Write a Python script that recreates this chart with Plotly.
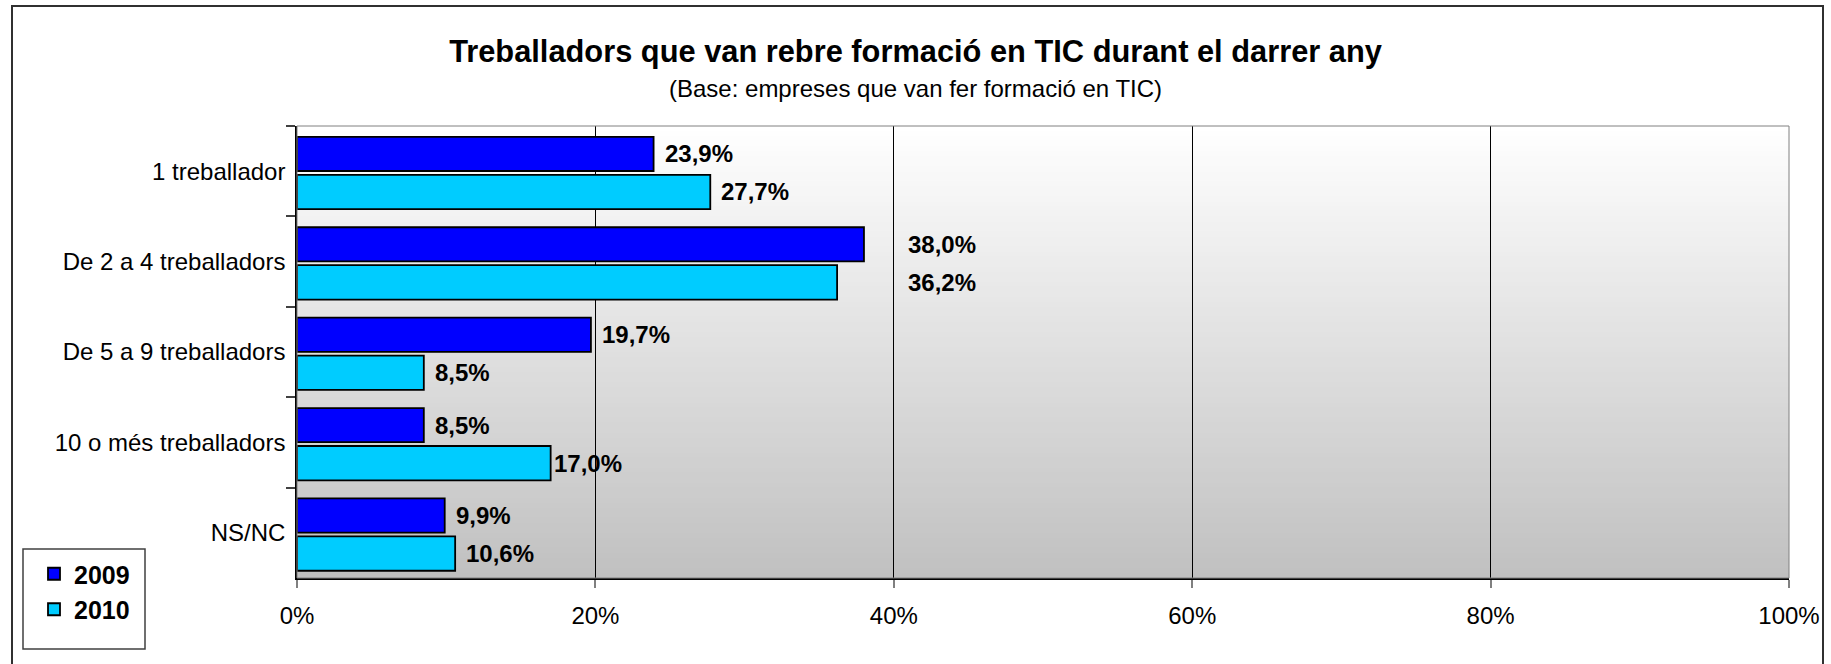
import plotly.graph_objects as go

# ---- data ----
categories = ["1 treballador", "De 2 a 4 treballadors", "De 5 a 9 treballadors",
              "10 o més treballadors", "NS/NC"]
values_2009 = [23.9, 38.0, 19.7, 8.5, 9.9]
values_2010 = [27.7, 36.2, 8.5, 17.0, 10.6]
series_names = ["2009", "2010"]
x_ticks = [0, 20, 40, 60, 80, 100]
x_tick_labels = ["0%", "20%", "40%", "60%", "80%", "100%"]

title = "Treballadors que van rebre formació en TIC durant el darrer any"
subtitle = "(Base: empreses que van fer formació en TIC)"

# ---- layout constants (pixels) ----
W, H = 1831, 664
ML, MR, MT, MB = 297, 42, 126, 86
PW, PH = W - ML - MR, H - MT - MB
FONT = "Liberation Sans, Arial, Helvetica, sans-serif"
COLORS = ["#0000FF", "#00CCFF"]
# bar placement inside each category band (band = 1 unit)
BAR_WIDTH = [0.378, 0.38]
BAR_OFFSET = [-0.38, 0.04]

# extra horizontal offset (px) for a few value labels
label_shift = {(0, 1): 42, (1, 1): 69, (1, 3): 1}


def fmt(v):
    return f"{v:.1f}".replace(".", ",") + "%"


fig = go.Figure()
for i, (name, vals) in enumerate(zip(series_names, [values_2009, values_2010])):
    fig.add_trace(go.Bar(
        y=categories, x=vals, name=name, orientation="h",
        legendgroup=name,
        width=BAR_WIDTH[i], offset=BAR_OFFSET[i],
        marker=dict(color=COLORS[i], line=dict(color="#000000", width=1.8)),
        hoverinfo="x+y",
    ))

# value labels to the right of each bar
band = PH / len(categories)
for i, vals in enumerate([values_2009, values_2010]):
    centre = BAR_OFFSET[i] + BAR_WIDTH[i] / 2   # in band units, positive = down
    for j, (cat, v) in enumerate(zip(categories, vals)):
        fig.add_annotation(
            x=v, y=cat, xref="x", yref="y", text=fmt(v), showarrow=False,
            xanchor="left", yanchor="middle",
            xshift=label_shift.get((i, j), 9),
            yshift=-centre * band,
            font=dict(family=FONT, size=24, color="#000000", weight="bold"),
        )

# subtitle
fig.add_annotation(
    x=(W / 2 - ML) / PW, y=1, xref="paper", yref="paper",
    text=subtitle, showarrow=False, xanchor="center", yanchor="middle",
    yshift=MT - 88, font=dict(family=FONT, size=24, color="#000000"),
)

shapes = []
# vertical gradient in the plot area (white at top, grey at bottom)
N = 90
top, bot = (255, 255, 255), (192, 192, 192)
for k in range(N):
    t = (k + 0.5) / N
    c = tuple(round(top[m] + (bot[m] - top[m]) * t) for m in range(3))
    shapes.append(dict(
        type="rect", xref="x domain", yref="y domain",
        x0=0, x1=1, y0=1 - (k + 1) / N - 0.002, y1=1 - k / N,
        fillcolor=f"rgb{c}", line=dict(width=0), layer="below",
    ))
# plot area frame (top/right)
shapes.append(dict(type="rect", xref="x domain", yref="y domain",
                   x0=0, x1=1, y0=0, y1=1,
                   line=dict(color="#808080", width=1), layer="above"))
# outer chart frame
shapes.append(dict(type="rect", xref="paper", yref="paper",
                   x0=(12 - ML) / PW, x1=(1823 - ML) / PW,
                   y0=-(H + 20 - (H - MB)) / PH, y1=1 + (MT - 6) / PH,
                   line=dict(color="#303030", width=2), layer="above"))
# legend frame
shapes.append(dict(type="rect", xref="paper", yref="paper",
                   x0=(23 - ML) / PW, x1=(145 - ML) / PW,
                   y0=-(649 - (H - MB)) / PH, y1=-(549 - (H - MB)) / PH,
                   line=dict(color="#404040", width=1.5),
                   fillcolor="#FFFFFF", layer="above"))

fig.update_layout(
    width=W, height=H,
    margin=dict(l=ML, r=MR, t=MT, b=MB, autoexpand=False),
    paper_bgcolor="#FFFFFF", plot_bgcolor="#FFFFFF",
    barmode="overlay",
    font=dict(family=FONT, size=24, color="#000000"),
    title=dict(text=f"<b>{title}</b>", x=0.5, xanchor="center",
               xref="container", yref="container",
               y=1 - 51 / H, yanchor="middle",
               font=dict(family=FONT, size=30.8, color="#000000")),
    shapes=shapes,
    showlegend=True,
    legend=dict(
        xref="container", yref="container",
        x=34 / W, y=1 - 551 / H, xanchor="left", yanchor="top",
        borderwidth=0, bgcolor="rgba(0,0,0,0)",
        font=dict(family=FONT, size=25, color="#000000", weight="bold"),
        tracegroupgap=22, traceorder="normal", itemwidth=30,
    ),
    xaxis=dict(
        range=[0, 100], tickvals=x_ticks, ticktext=x_tick_labels,
        showgrid=True, gridcolor="#000000", gridwidth=1,
        showline=True, linecolor="#000000", linewidth=1.5,
        ticks="outside", ticklen=8, tickcolor="#808080", tickwidth=1.5,
        ticklabelstandoff=7,
        zeroline=False, fixedrange=True,
        tickfont=dict(family=FONT, size=24, color="#000000"),
    ),
    yaxis=dict(
        autorange="reversed", showgrid=False,
        showline=True, linecolor="#000000", linewidth=1.5,
        ticks="outside", ticklen=9, tickcolor="#404040", tickwidth=1.5,
        tickson="boundaries", ticklabelstandoff=5, fixedrange=True,
        tickfont=dict(family=FONT, size=24, color="#000000"),
    ),
)

fig.write_html("out.html")
